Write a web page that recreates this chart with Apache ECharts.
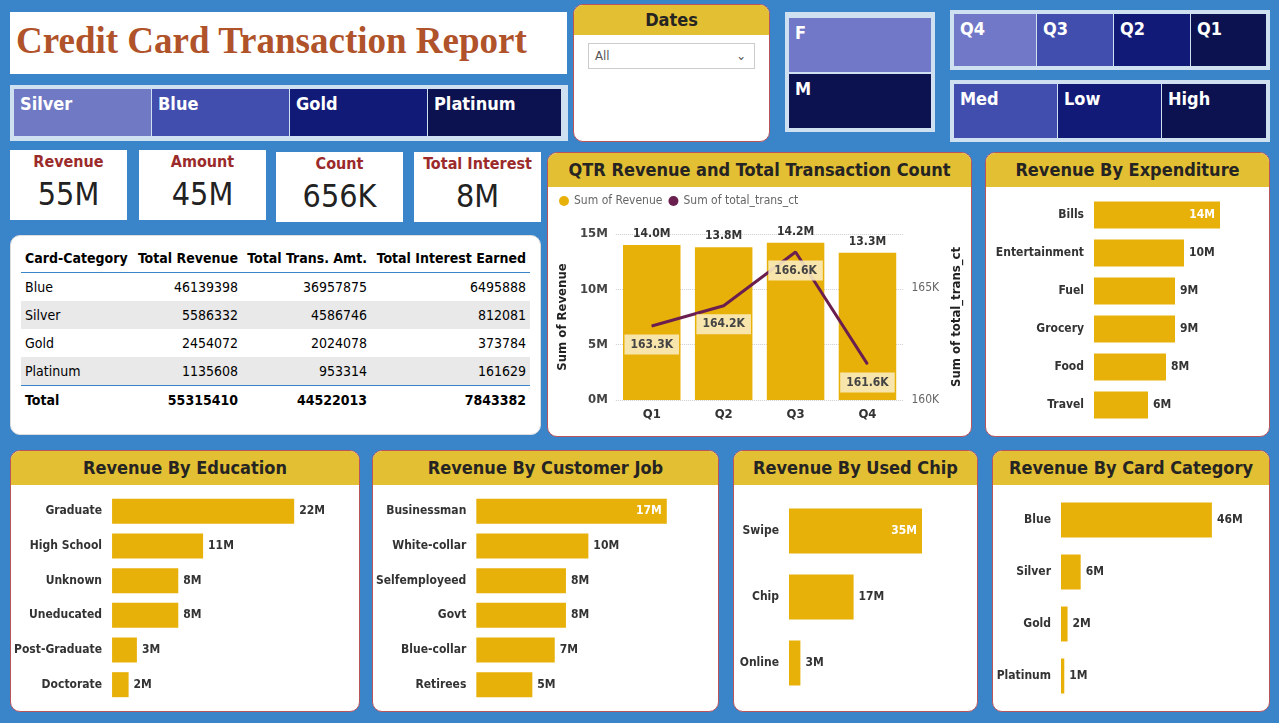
<!DOCTYPE html>
<html lang="en">
<head>
<meta charset="UTF-8">
<title>Credit Card Transaction Report</title>
<script src="https://cdn.jsdelivr.net/npm/echarts@6/dist/echarts.min.js"></script>
<style>
    body { margin: 0; width: 1279px; height: 723px; background: #3a84c9; font-family: "DejaVu Sans Condensed", "Noto Sans", sans-serif; position: relative; overflow: hidden; }
    .box { position: absolute; background: #fff; box-sizing: border-box; }
    .panel { border-radius: 10px; border: 1px solid #b9545a; overflow: hidden; }
    .hdr { background: #e3bf33; height: 34px; line-height: 34px; text-align: center; font-weight: bold; font-size: 18px; color: #252423; }
    .tile { position: absolute; color: #fff; font-weight: bold; font-size: 18px; padding: 4px 6px; box-sizing: border-box; }
    .kpi { text-align: center; }
    .kpi .t { color: #9b2b2b; font-size: 16px; font-weight: bold; margin-top: 2px; }
    .kpi .v { color: #222; font-size: 32px; margin-top: 4px; }
    table { border-collapse: collapse; font-size: 14px; width: 100%; }
    td, th { padding: 6px 4px; }
    th { text-align: right; font-weight: bold; border-bottom: 1px solid #3a84c9; }
    td { text-align: right; }
    .chart { position: absolute; }
</style>
</head>
<body>
<div class="box" style="left:10px;top:12px;width:557px;height:62px;">
    <div style="font-family:'Liberation Serif',serif;font-weight:bold;color:#b0522a;font-size:37px;padding:7px 6px;white-space:nowrap;">Credit Card Transaction Report</div>
</div>
<div class="box" style="left:10px;top:85px;width:558px;height:56px;background:#cfe0f0;">
    <div class="tile" style="left:4px;top:4px;width:137px;height:47px;background:#6f79c4;">Silver</div>
    <div class="tile" style="left:142px;top:4px;width:137px;height:47px;background:#424eae;">Blue</div>
    <div class="tile" style="left:280px;top:4px;width:137px;height:47px;background:#121a78;">Gold</div>
    <div class="tile" style="left:418px;top:4px;width:133px;height:47px;background:#0c1150;">Platinum</div>
</div>
<div class="box panel" style="left:573px;top:4px;width:197px;height:138px;">
    <div class="hdr" style="height:30px;line-height:30px;">Dates</div>
    <div style="margin:8px 14px;border:1px solid #ccc;height:24px;line-height:24px;font-size:13px;color:#555;padding-left:6px;">All<span style="float:right;margin-right:8px;">&#8964;</span></div>
</div>
<div class="box" style="left:785px;top:12px;width:150px;height:120px;background:#cfe0f0;">
    <div class="tile" style="left:4px;top:6px;width:142px;height:54px;background:#7278c8;">F</div>
    <div class="tile" style="left:4px;top:62px;width:142px;height:54px;background:#0c1150;">M</div>
</div>
<div class="box" style="left:950px;top:10px;width:320px;height:60px;background:#cfe0f0;">
    <div class="tile" style="left:4px;top:4px;width:82px;height:52px;background:#7278c8;">Q4</div>
    <div class="tile" style="left:87px;top:4px;width:76px;height:52px;background:#424eae;">Q3</div>
    <div class="tile" style="left:164px;top:4px;width:76px;height:52px;background:#121a78;">Q2</div>
    <div class="tile" style="left:241px;top:4px;width:75px;height:52px;background:#0c1150;">Q1</div>
</div>
<div class="box" style="left:950px;top:80px;width:320px;height:62px;background:#cfe0f0;">
    <div class="tile" style="left:4px;top:4px;width:103px;height:54px;background:#424eae;">Med</div>
    <div class="tile" style="left:108px;top:4px;width:103px;height:54px;background:#121a78;">Low</div>
    <div class="tile" style="left:212px;top:4px;width:104px;height:54px;background:#0c1150;">High</div>
</div>
<div class="box kpi" style="left:10px;top:150px;width:117px;height:70px;"><div class="t">Revenue</div><div class="v">55M</div></div>
<div class="box kpi" style="left:139px;top:150px;width:127px;height:70px;"><div class="t">Amount</div><div class="v">45M</div></div>
<div class="box kpi" style="left:276px;top:152px;width:127px;height:70px;"><div class="t">Count</div><div class="v">656K</div></div>
<div class="box kpi" style="left:414px;top:152px;width:127px;height:70px;"><div class="t">Total Interest</div><div class="v">8M</div></div>
<div class="box panel" style="left:10px;top:235px;width:531px;height:200px;padding:8px 10px;border-color:#ddd;">
    <table id="tbl"></table>
</div>
<div class="box panel" style="left:547px;top:152px;width:425px;height:285px;"><div class="hdr">QTR Revenue and Total Transaction Count</div></div>
<div class="chart" id="qtr" style="left:548px;top:186px;width:423px;height:250px;"></div>
<div class="box panel" style="left:985px;top:152px;width:285px;height:285px;"><div class="hdr">Revenue By Expenditure</div></div>
<div class="chart" id="exp" style="left:986px;top:190px;width:283px;height:240px;"></div>
<div class="box panel" style="left:10px;top:450px;width:350px;height:262px;"><div class="hdr">Revenue By Education</div></div>
<div class="chart" id="edu" style="left:11px;top:488px;width:348px;height:220px;"></div>
<div class="box panel" style="left:372px;top:450px;width:347px;height:262px;"><div class="hdr">Revenue By Customer Job</div></div>
<div class="chart" id="job" style="left:373px;top:488px;width:345px;height:220px;"></div>
<div class="box panel" style="left:733px;top:450px;width:245px;height:262px;"><div class="hdr">Revenue By Used Chip</div></div>
<div class="chart" id="chip" style="left:734px;top:492px;width:243px;height:210px;"></div>
<div class="box panel" style="left:992px;top:450px;width:278px;height:262px;"><div class="hdr">Revenue By Card Category</div></div>
<div class="chart" id="card" style="left:993px;top:488px;width:276px;height:220px;"></div>
<script>
    var tableCats = ['Blue', 'Silver', 'Gold', 'Platinum'];
    var tableRevenue = [46139398, 5586332, 2454072, 1135608];
    var tableAmount = [36957875, 4586746, 2024078, 953314];
    var tableInterest = [6495888, 812081, 373784, 161629];
    var tableTotals = [55315410, 44522013, 7843382];

    var quarters = ['Q1', 'Q2', 'Q3', 'Q4'];
    var qtrRevenue = [14.0, 13.8, 14.2, 13.3];
    var qtrCount = [163.3, 164.2, 166.6, 161.6];

    var expCats = ['Bills', 'Entertainment', 'Fuel', 'Grocery', 'Food', 'Travel'];
    var expVals = [14, 10, 9, 9, 8, 6];
    var eduCats = ['Graduate', 'High School', 'Unknown', 'Uneducated', 'Post-Graduate', 'Doctorate'];
    var eduVals = [22, 11, 8, 8, 3, 2];
    var jobCats = ['Businessman', 'White-collar', 'Selfemployeed', 'Govt', 'Blue-collar', 'Retirees'];
    var jobVals = [17, 10, 8, 8, 7, 5];
    var chipCats = ['Swipe', 'Chip', 'Online'];
    var chipVals = [35, 17, 3];
    var cardCats = ['Blue', 'Silver', 'Gold', 'Platinum'];
    var cardVals = [46, 6, 2, 1];

    var YEL = '#e8b10a';

    // table
    var html = '<tr><th style="text-align:left">Card-Category</th><th>Total Revenue</th><th>Total Trans. Amt.</th><th>Total Interest Earned</th></tr>';
    tableCats.forEach(function (c, i) {
        var bg = i % 2 ? '#e9e9e9' : '#fff';
        html += '<tr style="background:' + bg + '"><td style="text-align:left">' + c + '</td><td>' + tableRevenue[i] +
            '</td><td>' + tableAmount[i] + '</td><td>' + tableInterest[i] + '</td></tr>';
    });
    html += '<tr style="font-weight:bold;border-top:1px solid #3a84c9"><td style="text-align:left">Total</td><td>' + tableTotals[0] +
        '</td><td>' + tableTotals[1] + '</td><td>' + tableTotals[2] + '</td></tr>';
    document.getElementById('tbl').innerHTML = html;

    // combo chart
    echarts.init(document.getElementById('qtr')).setOption({
        animation: false,
        textStyle: {fontFamily: 'DejaVu Sans Condensed'},
        legend: {left: 6, top: 4, itemWidth: 10, itemHeight: 10, itemGap: 6, icon: 'circle',
            textStyle: {color: '#666', fontSize: 12}},
        grid: {left: 62, right: 66, top: 48, bottom: 36},
        xAxis: {type: 'category', data: quarters, axisLine: {show: false}, axisTick: {show: false},
            axisLabel: {fontWeight: 'bold', color: '#333', fontSize: 13}},
        yAxis: [
            {type: 'value', min: 0, max: 15, interval: 5, name: 'Sum of Revenue', nameLocation: 'middle', nameGap: 38,
                nameTextStyle: {fontWeight: 'bold', fontSize: 13, color: '#222'},
                axisLabel: {formatter: '{value}M', fontWeight: 'bold', color: '#444', fontSize: 13},
                splitLine: {lineStyle: {type: 'dotted', color: '#ccc'}}},
            {type: 'value', min: 160, max: 167.4, interval: 5, name: 'Sum of total_trans_ct', nameLocation: 'middle', nameGap: 46,
                nameTextStyle: {fontWeight: 'bold', fontSize: 13, color: '#222'},
                axisLabel: {formatter: '{value}K', color: '#666', fontSize: 12, showMaxLabel: false}, splitLine: {show: false}}
        ],
        series: [
            {name: 'Sum of Revenue', type: 'bar', data: qtrRevenue, barWidth: '80%', itemStyle: {color: YEL},
                label: {show: true, position: 'top', formatter: function (p) { return p.value.toFixed(1) + 'M'; },
                    fontWeight: 'bold', color: '#333', fontSize: 12}},
            {name: 'Sum of total_trans_ct', type: 'line', yAxisIndex: 1, data: qtrCount, symbol: 'circle', symbolSize: 1,
                showSymbol: true,
                lineStyle: {color: '#6b1f4f', width: 3}, itemStyle: {color: '#6b1f4f'},
                label: {show: true, position: 'bottom', distance: 8, formatter: '{c}K', fontWeight: 'bold', color: '#444', fontSize: 12,
                    backgroundColor: 'rgba(250,235,190,0.9)', padding: [4, 6]}}
        ]
    });

    function hbar(id, cats, vals, left, right, barW, insideIdx) {
        echarts.init(document.getElementById(id)).setOption({
            animation: false,
            textStyle: {fontFamily: 'DejaVu Sans Condensed'},
            grid: {left: left, right: right, top: 6, bottom: 6},
            xAxis: {type: 'value', show: false, min: 0},
            yAxis: {type: 'category', data: cats, inverse: true, axisLine: {show: false}, axisTick: {show: false},
                axisLabel: {color: '#333', fontWeight: 'bold', fontSize: 12, margin: 10}},
            series: [{type: 'bar', barWidth: barW, itemStyle: {color: YEL},
                data: vals.map(function (v, i) {
                    var d = {value: v};
                    if (i === insideIdx) d.label = {position: 'insideRight', color: '#fff'};
                    return d;
                }),
                label: {show: true, position: 'right', formatter: '{c}M', fontWeight: 'bold', color: '#333', fontSize: 12}}]
        });
    }
    hbar('exp', expCats, expVals, 108, 40, 27, 0);
    hbar('edu', eduCats, eduVals, 99, 40, 25, -1);
    hbar('job', jobCats, jobVals, 102, 40, 25, 0);
    hbar('chip', chipCats, chipVals, 55, 36, 45, 0);
    hbar('card', cardCats, cardVals, 68, 44, 35, -1);
</script>
</body>
</html>
